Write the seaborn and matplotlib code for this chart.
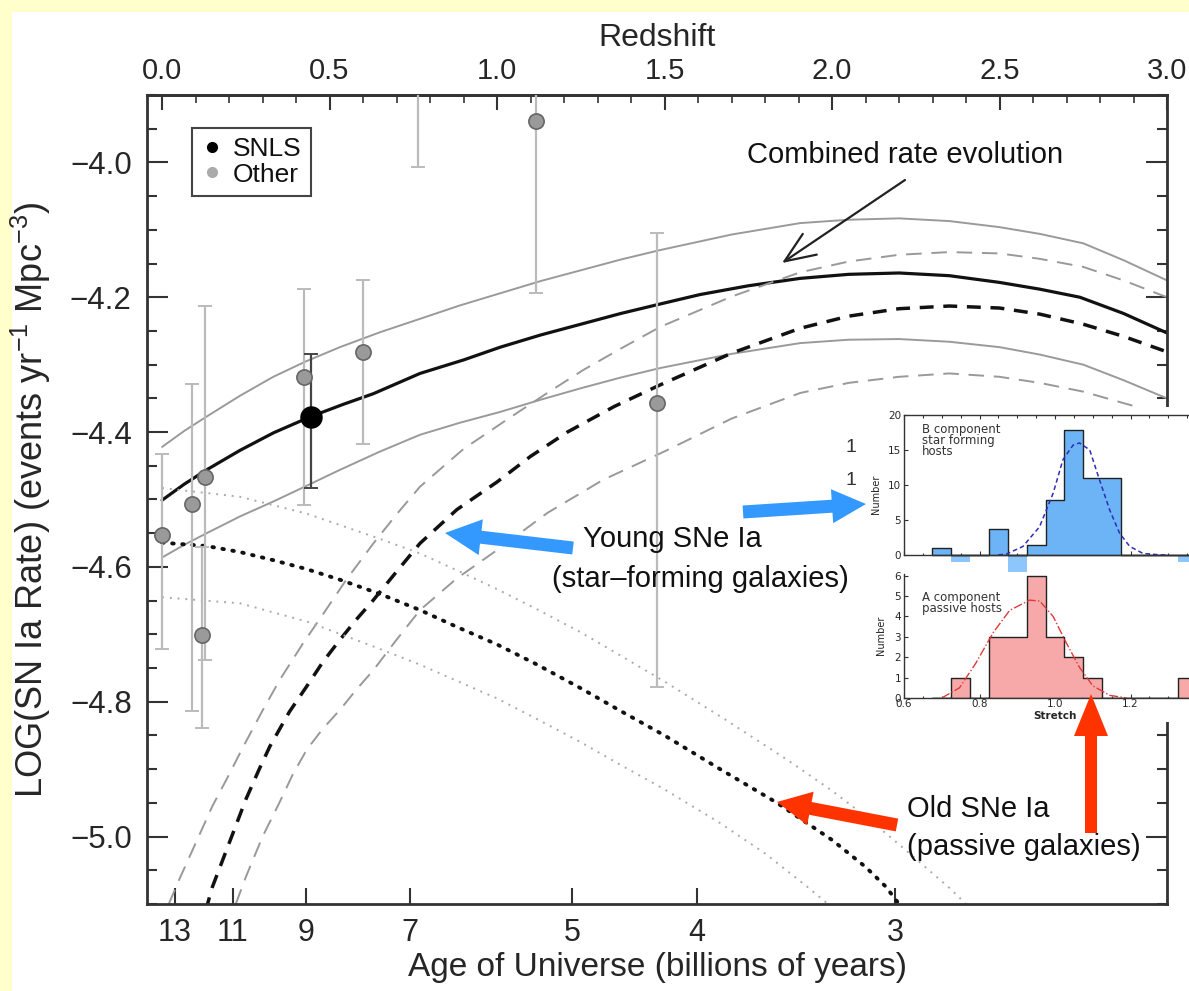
import numpy as np
import pandas as pd
import matplotlib
matplotlib.use("Agg")
import matplotlib.pyplot as plt
import seaborn as sns
from matplotlib.ticker import MultipleLocator, FuncFormatter, FixedLocator, NullLocator
from matplotlib.patches import Rectangle, FancyArrow
from matplotlib.lines import Line2D
from matplotlib.transforms import IdentityTransform

W, H = 1189, 991

# ---- model curves: redshift vs log10 rate ----
z_comb = [0.0, 0.067, 0.133, 0.233, 0.333, 0.444, 0.54, 0.631, 0.77, 0.9, 1.01, 1.13, 1.25, 1.37,
          1.487, 1.606, 1.75, 1.905, 2.05, 2.2, 2.35, 2.5, 2.62, 2.74, 2.87, 3.0]
log_comb = [-4.501, -4.477, -4.456, -4.427, -4.401, -4.377, -4.359, -4.343, -4.313, -4.293, -4.274,
            -4.256, -4.24, -4.224, -4.21, -4.196, -4.183, -4.172, -4.166, -4.164, -4.168, -4.178,
            -4.188, -4.20, -4.224, -4.253]

z_band = [0.0, 0.067, 0.133, 0.233, 0.332, 0.43, 0.531, 0.65, 0.77, 0.89, 1.01, 1.13, 1.25, 1.37,
          1.487, 1.7, 1.905, 2.05, 2.2, 2.35, 2.5, 2.62, 2.75, 2.87, 3.0]
log_comb_hi = [-4.422, -4.398, -4.377, -4.346, -4.318, -4.295, -4.274, -4.252, -4.232, -4.212, -4.194,
               -4.176, -4.16, -4.144, -4.13, -4.107, -4.09, -4.085, -4.083, -4.087, -4.096, -4.106,
               -4.12, -4.145, -4.175]
log_comb_lo = [-4.586, -4.567, -4.55, -4.525, -4.503, -4.48, -4.456, -4.429, -4.404, -4.386, -4.37,
               -4.352, -4.335, -4.319, -4.305, -4.284, -4.268, -4.263, -4.262, -4.266, -4.274, -4.285,
               -4.30, -4.323, -4.35]

z_young = [0.13, 0.15, 0.2, 0.25, 0.29, 0.322, 0.38, 0.432, 0.48, 0.531, 0.58, 0.631, 0.7, 0.77, 0.88,
           1.0, 1.1, 1.21, 1.35, 1.487, 1.7, 1.905, 2.05, 2.2, 2.35, 2.5, 2.62, 2.75, 2.87, 3.0]
log_young = [-5.11, -5.075, -5.01, -4.945, -4.9, -4.866, -4.815, -4.777, -4.741, -4.708, -4.678,
             -4.649, -4.607, -4.565, -4.515, -4.474, -4.436, -4.40, -4.362, -4.33, -4.283, -4.246,
             -4.228, -4.217, -4.213, -4.216, -4.225, -4.24, -4.258, -4.281]
z_young_hi = [0.02, 0.05, 0.1, 0.15, 0.2, 0.243, 0.3, 0.352, 0.42, 0.482, 0.55, 0.631, 0.7, 0.77, 0.9,
              1.04, 1.15, 1.257, 1.37, 1.487, 1.7, 1.905, 2.05, 2.2, 2.35, 2.5, 2.62, 2.75, 2.87, 3.0]
log_young_hi = [-5.1, -5.065, -5.01, -4.955, -4.908, -4.866, -4.813, -4.767, -4.714, -4.669, -4.619,
                -4.565, -4.522, -4.481, -4.425, -4.378, -4.342, -4.308, -4.276, -4.244, -4.199, -4.163,
                -4.147, -4.137, -4.133, -4.135, -4.143, -4.155, -4.175, -4.2]
z_young_lo = [0.22, 0.25, 0.3, 0.35, 0.39, 0.432, 0.48, 0.531, 0.58, 0.631, 0.7, 0.77, 0.88, 1.0, 1.15,
              1.316, 1.507, 1.7, 1.905, 2.05, 2.2, 2.35, 2.5, 2.62, 2.75, 2.87, 3.0]
log_young_lo = [-5.1, -5.06, -5.0, -4.95, -4.908, -4.871, -4.84, -4.812, -4.782, -4.753, -4.708,
                -4.664, -4.617, -4.575, -4.52, -4.471, -4.427, -4.38, -4.342, -4.327, -4.318, -4.313,
                -4.318, -4.327, -4.34, -4.357, -4.375]

z_old = [0.0, 0.133, 0.233, 0.332, 0.43, 0.531, 0.65, 0.77, 0.88, 1.0, 1.12, 1.25, 1.37, 1.5, 1.666,
         1.836, 2.0, 2.1, 2.16, 2.2]
log_old = [-4.564, -4.569, -4.578, -4.59, -4.603, -4.619, -4.64, -4.664, -4.689, -4.715, -4.745,
           -4.78, -4.814, -4.85, -4.90, -4.95, -5.005, -5.045, -5.074, -5.1]
z_old_hi = [0.0, 0.233, 0.432, 0.631, 0.77, 0.88, 1.0, 1.12, 1.25, 1.37, 1.5, 1.68, 1.866, 2.0, 2.1,
            2.22, 2.35, 2.4]
log_old_hi = [-4.483, -4.496, -4.521, -4.555, -4.58, -4.605, -4.633, -4.663, -4.697, -4.732, -4.77,
              -4.826, -4.886, -4.932, -4.97, -5.02, -5.076, -5.1]
z_old_lo = [0.0, 0.233, 0.432, 0.631, 0.77, 0.88, 1.0, 1.12, 1.25, 1.37, 1.5, 1.666, 1.8, 1.925, 2.0]
log_old_lo = [-4.645, -4.654, -4.681, -4.718, -4.745, -4.769, -4.795, -4.826, -4.86, -4.894, -4.93,
              -4.98, -5.025, -5.074, -5.105]

# ---- measured rates ----
other_z = [0.0, 0.088, 0.128, 0.118, 0.424, 0.599, 0.764, 1.117, 1.478]
other_rate = [-4.553, -4.506, -4.466, -4.701, -4.319, -4.281, -3.75, -3.939, -4.357]
other_low = [-4.722, -4.813, -4.738, -4.839, -4.508, -4.418, -4.007, -4.194, -4.778]
other_high = [-4.433, -4.329, -4.213, -4.57, -4.188, -4.174, -3.5, -3.7, -4.104]
snls_z = [0.444]
snls_rate = [-4.377]
snls_low = [-4.483]
snls_high = [-4.284]

# bottom axis: age of universe at redshift
age_labels = ["13", "11", "9", "7", "5", "4", "3"]
age_z = [0.038, 0.211, 0.430, 0.740, 1.224, 1.597, 2.188]

# ---- inset: stretch histograms ----
stretch_centers = [0.70, 0.75, 0.80, 0.85, 0.90, 0.95, 1.00, 1.05, 1.10, 1.15, 1.20, 1.25, 1.30, 1.35]
b_counts = [1, -1, 0, 3.7, -2.4, 1.4, 7.8, 17.9, 11, 11, 0, 0, 0, -1]
a_counts = [0, 1, 0, 3, 3, 6, 3, 2, 1, 0, 0, 0, 0, 1]
b_fit_x = [0.85, 0.871, 0.915, 0.959, 0.995, 1.021, 1.048, 1.065, 1.092, 1.118, 1.145, 1.171, 1.198, 1.233, 1.277, 1.30]
b_fit_y = [0.0, 0.1, 1.2, 4.0, 8.8, 13.6, 15.7, 16.0, 15.0, 10.7, 6.4, 3.1, 1.2, 0.2, 0.0, 0.0]
a_fit_x = [0.70, 0.747, 0.79, 0.836, 0.88, 0.933, 0.96, 0.995, 1.03, 1.065, 1.10, 1.145, 1.19]
a_fit_y = [0.0, 0.5, 1.7, 3.2, 4.3, 4.8, 4.75, 4.0, 2.7, 1.5, 0.6, 0.13, 0.0]


def box(x0, y0, x1, y1):
    # image pixels (top-left origin) -> figure fraction
    return [x0 / W, (H - y1) / H, (x1 - x0) / W, (y1 - y0) / H]


sns.set_theme(style="ticks")
plt.rcParams["font.family"] = ["Liberation Sans", "DejaVu Sans"]
plt.rcParams["mathtext.fontset"] = "custom"
plt.rcParams["mathtext.rm"] = "Liberation Sans"
plt.rcParams["mathtext.it"] = "Liberation Sans:italic"
plt.rcParams["mathtext.default"] = "regular"
plt.rcParams["text.color"] = "#111111"

fig = plt.figure(figsize=(W / 100, H / 100), dpi=100, facecolor="#FFFFCC")
fig.add_artist(Rectangle((12 / W, 0), 1, (H - 12) / H, transform=fig.transFigure,
                         facecolor="white", edgecolor="none", zorder=-1))

ax = fig.add_axes(box(147, 95, 1167, 904))
ax.set_facecolor("white")


def curve(z, v, **kw):
    sns.lineplot(x=z, y=v, ax=ax, sort=False, errorbar=None, legend=False, **kw)


# combined rate and its band
curve(z_band, log_comb_hi, color="#9A9A9A", linewidth=1.4)
curve(z_band, log_comb_lo, color="#9A9A9A", linewidth=1.4)
curve(z_comb, log_comb, color="#111111", linewidth=2.3)
# young component
curve(z_young_hi, log_young_hi, color="#999999", linewidth=1.4, linestyle=(0, (8, 5)))
curve(z_young_lo, log_young_lo, color="#999999", linewidth=1.4, linestyle=(0, (8, 5)))
curve(z_young, log_young, color="#111111", linewidth=2.5, linestyle=(0, (4, 2.8)))
# old component
curve(z_old_hi, log_old_hi, color="#AAAAAA", linewidth=1.4, linestyle=(0, (1, 3)))
curve(z_old_lo, log_old_lo, color="#AAAAAA", linewidth=1.4, linestyle=(0, (1, 3)))
curve(z_old, log_old, color="#111111", linewidth=2.8, linestyle=(0, (0.4, 2.2)),
      dash_capstyle="round")

# data points
o_rate = np.array(other_rate)
ax.errorbar(other_z, o_rate, yerr=[o_rate - np.array(other_low), np.array(other_high) - o_rate],
            fmt="none", ecolor="#BBBBBB", elinewidth=1.6, capsize=5, capthick=1.4, zorder=4)
s_rate = np.array(snls_rate)
ax.errorbar(snls_z, s_rate, yerr=[s_rate - np.array(snls_low), np.array(snls_high) - s_rate],
            fmt="none", ecolor="#444444", elinewidth=1.6, capsize=5, capthick=1.4, zorder=4)
sns.scatterplot(x=other_z, y=other_rate, ax=ax, s=120, color="#9A9A9A",
                edgecolor="#666666", linewidth=1.2, zorder=5, legend=False)
sns.scatterplot(x=snls_z, y=snls_rate, ax=ax, s=230, color="black",
                edgecolor="black", linewidth=1, zorder=6, legend=False)

ax.set_xlim(-0.045, 3.0)
ax.set_ylim(-5.1, -3.9)

# axes frame and ticks
for sp in ax.spines.values():
    sp.set_visible(True)
    sp.set_color("#333333")
    sp.set_linewidth(2)
ax.xaxis.set_major_locator(FixedLocator(age_z))
ax.set_xticklabels(age_labels)
ax.xaxis.set_minor_locator(NullLocator())
ax.yaxis.set_major_locator(MultipleLocator(0.2))
ax.yaxis.set_minor_locator(MultipleLocator(0.05))
ax.yaxis.set_major_formatter(FuncFormatter(lambda v, p: f"{v:.1f}".replace("-", "\u2212")))
ax.tick_params(axis="x", which="major", direction="in", length=11.5, width=1.5,
               labelsize=22, pad=10, top=False, color="#333333")
ax.tick_params(axis="y", which="major", direction="in", length=15, width=1.5,
               labelsize=22.5, pad=11, right=True, color="#333333")
ax.tick_params(axis="y", which="minor", direction="in", length=7.5, width=1.5,
               right=True, color="#333333")

secax = ax.secondary_xaxis("top")
secax.xaxis.set_major_locator(FixedLocator([0.0, 0.5, 1.0, 1.5, 2.0, 2.5, 3.0]))
secax.xaxis.set_minor_locator(FixedLocator([k / 10 for k in range(31)]))
secax.xaxis.set_major_formatter(FuncFormatter(lambda v, p: f"{v:.1f}"))
secax.tick_params(which="major", direction="in", length=10.5, width=1.5, labelsize=21, pad=7, color="#333333")
secax.tick_params(which="minor", direction="in", length=5.5, width=1.2, color="#333333")
secax.spines["top"].set_color("#333333")
secax.spines["top"].set_linewidth(2)
secax.set_xlabel("Redshift", fontsize=23, labelpad=8)

ax.set_xlabel("Age of Universe (billions of years)", fontsize=24, labelpad=3)
ax.set_ylabel("LOG(SN Ia Rate) (events yr$^{-1}$ Mpc$^{-3}$)", fontsize=26, labelpad=12)

# legend
handles = [Line2D([], [], marker="o", linestyle="none", color="black", markersize=7),
           Line2D([], [], marker="o", linestyle="none", color="#AAAAAA", markersize=7)]
leg = ax.legend(handles, ["SNLS", "Other"], loc="upper left", bbox_to_anchor=(0.044, 0.959),
                borderaxespad=0, fontsize=19, frameon=True, fancybox=False, framealpha=1,
                handlelength=0.8, handletextpad=0.4, labelspacing=0.05, borderpad=0.35)
leg.get_frame().set_edgecolor("#444444")
leg.get_frame().set_linewidth(1.5)

# annotations
fig.text(905 / W, (H - 163) / H, "Combined rate evolution", fontsize=21, ha="center", va="baseline")
ax.annotate("", xy=(782, H - 263), xytext=(905, H - 180), xycoords="figure pixels",
            textcoords="figure pixels",
            arrowprops=dict(arrowstyle="->,head_length=1.1,head_width=0.45", color="#222222",
                            lw=1.6, mutation_scale=20, shrinkA=0, shrinkB=0))
fig.text(672 / W, (H - 547) / H, "Young SNe Ia", fontsize=21, ha="center", va="baseline")
fig.text(700 / W, (H - 587) / H, "(star\u2013forming galaxies)", fontsize=21, ha="center", va="baseline")
fig.text(907 / W, (H - 817) / H, "Old SNe Ia", fontsize=21, ha="left", va="baseline")
fig.text(907 / W, (H - 855) / H, "(passive galaxies)", fontsize=21, ha="left", va="baseline")
fig.text(851 / W, (H - 447) / H, "1", fontsize=14, ha="center", va="center", color="#333333")
fig.text(851 / W, (H - 480) / H, "1", fontsize=14, ha="center", va="center", color="#333333")

# ---- inset ----
fig.add_artist(Rectangle((862 / W, (H - 722) / H), 1, (722 - 407) / H, transform=fig.transFigure,
                         facecolor="white", edgecolor="none", zorder=1))
edges = [round(0.675 + 0.05 * k, 3) for k in range(15)]
b_pos = [max(c, 0) for c in b_counts]
b_neg = [min(c, 0) for c in b_counts]
small = dict(family=["DejaVu Sans"], fontsize=8.5)

axb = fig.add_axes(box(904, 415, 1206, 573))
axb.set_zorder(2)
axb.set_facecolor("white")
sns.histplot(x=stretch_centers, weights=b_neg, bins=edges, element="bars", color="#8CC6FA",
             linewidth=0, alpha=1, ax=axb)
sns.histplot(x=stretch_centers, weights=b_pos, bins=edges, element="step", fill=True,
             color="#6CB4F6", edgecolor="#222222", linewidth=1, alpha=1, ax=axb)
sns.lineplot(x=b_fit_x, y=b_fit_y, ax=axb, color="#2E2EB8", linewidth=1.1,
             linestyle=(0, (3, 2)), errorbar=None, sort=False)
axb.set_xlim(0.6, 1.4)
axb.set_ylim(-2.6, 20)
axb.spines["bottom"].set_position(("data", 0))
axb.spines["left"].set_bounds(0, 20)
axb.spines["right"].set_visible(False)
for sp in ["bottom", "left", "top"]:
    axb.spines[sp].set_color("#333333")
    axb.spines[sp].set_linewidth(1)
axb.xaxis.set_major_locator(MultipleLocator(0.2))
axb.xaxis.set_minor_locator(MultipleLocator(0.05))
axb.yaxis.set_major_locator(MultipleLocator(5))
axb.tick_params(axis="x", which="both", direction="in", top=True, labelbottom=False,
                length=3, width=0.8, color="#333333")
axb.tick_params(axis="x", which="minor", length=1.8)
axb.tick_params(axis="y", direction="in", length=3, width=0.8, labelsize=7.5, pad=2, color="#333333")
axb.set_xlabel("")
axb.set_ylabel("Number", fontsize=7, labelpad=5, family="Liberation Sans Narrow")
axb.text(0.06, 0.95, "B component\nstar forming\nhosts", transform=axb.transAxes, va="top",
         ha="left", linespacing=0.8, color="#333333", **small)

axa = fig.add_axes(box(904, 573.6, 1206, 698))
axa.set_zorder(2)
axa.set_facecolor("white")
sns.histplot(x=stretch_centers, weights=a_counts, bins=edges, element="step", fill=True,
             color="#F7A9A9", edgecolor="#222222", linewidth=1, alpha=1, ax=axa)
sns.lineplot(x=a_fit_x, y=a_fit_y, ax=axa, color="#E03A3A", linewidth=1.0,
             linestyle="-.", errorbar=None, sort=False)
axa.set_xlim(0.6, 1.4)
axa.set_ylim(0, 6.1)
axa.spines["top"].set_visible(False)
axa.spines["right"].set_visible(False)
for sp in ["bottom", "left"]:
    axa.spines[sp].set_color("#333333")
    axa.spines[sp].set_linewidth(1)
axa.xaxis.set_major_locator(FixedLocator([0.6, 0.8, 1.0, 1.2]))
axa.xaxis.set_major_formatter(FuncFormatter(lambda v, p: f"{v:.1f}"))
axa.xaxis.set_minor_locator(MultipleLocator(0.05))
axa.yaxis.set_major_locator(MultipleLocator(1))
axa.tick_params(axis="x", which="both", direction="in", length=3, width=0.8, labelsize=7.5,
                pad=1, color="#333333")
axa.tick_params(axis="x", which="minor", length=1.8)
axa.tick_params(axis="y", direction="in", length=3, width=0.8, labelsize=7.5, pad=2, color="#333333")
axa.set_xlabel("Stretch", fontsize=7.5, labelpad=1, fontweight="bold", family=["DejaVu Sans"])
axa.set_ylabel("Number", fontsize=7, labelpad=6, family="Liberation Sans Narrow")
axa.text(0.06, 0.86, "A component\npassive hosts", transform=axa.transAxes, va="top",
         ha="left", linespacing=0.8, color="#333333", **small)
for a in (axa, axb):
    for lab in a.get_xticklabels() + a.get_yticklabels():
        lab.set_family("DejaVu Sans")

# ---- fat coloured arrows (image pixels) ----
def fat_arrow(x0, y0, x1, y1, color, width, head_w, head_l):
    arr = FancyArrow(x0, H - y0, x1 - x0, -(y1 - y0), width=width, head_width=head_w,
                     head_length=head_l, length_includes_head=True, color=color,
                     linewidth=0, transform=IdentityTransform(), zorder=5)
    fig.add_artist(arr)


fat_arrow(573, 548, 445, 533, "#3399FF", 13, 36, 36)
fat_arrow(743, 512, 866, 504, "#3399FF", 13, 34, 34)
fat_arrow(897, 825, 777, 802, "#FF3300", 13, 34, 34)
fat_arrow(1091, 833, 1091, 694, "#FF3300", 12, 34, 42)

fig.savefig("out.png", dpi=100, facecolor=fig.get_facecolor())
